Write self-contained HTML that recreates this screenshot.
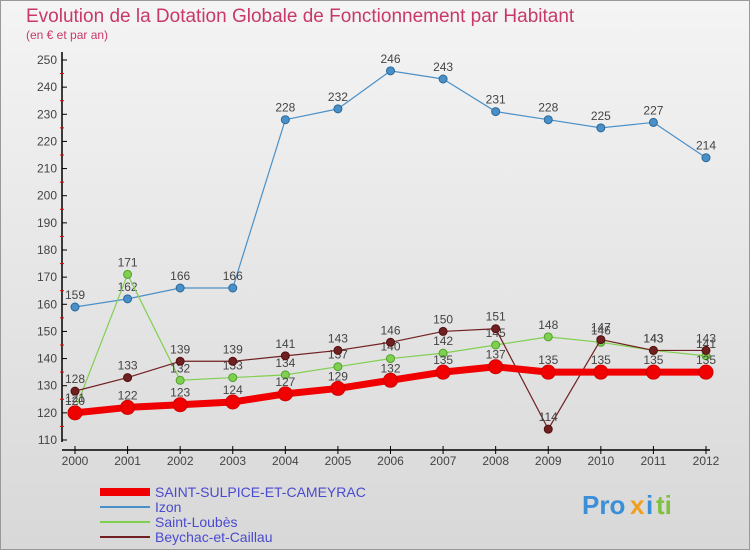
<!DOCTYPE html>
<html><head><meta charset="utf-8"><style>
body{margin:0;width:750px;height:550px;overflow:hidden;font-family:"Liberation Sans",sans-serif}
</style></head><body>
<svg width="750" height="550" xmlns="http://www.w3.org/2000/svg">
<defs><linearGradient id="bg" x1="0" y1="0" x2="0" y2="1"><stop offset="0" stop-color="#f4f4f4"/><stop offset="1" stop-color="#d8d8d8"/></linearGradient></defs>
<rect x="0.5" y="0.5" width="749" height="549" fill="url(#bg)" stroke="#999"/>
<text x="26" y="22" font-size="19" fill="#c8386a">Evolution de la Dotation Globale de Fonctionnement par Habitant</text>
<text x="26" y="39" font-size="12" fill="#c8386a">(en € et par an)</text>
<g id="axes"></g><g id="series"></g><g id="legend"></g>
<g font-size="26" font-weight="bold">
<text x="582" y="514" fill="#3a8fd8">Pro</text><text x="630" y="514" fill="#f0a020">x</text><text x="646" y="514" fill="#3a8fd8">i</text><text x="656" y="514" fill="#80c040">ti</text>
</g>
</svg>
<script>
const years=[2000,2001,2002,2003,2004,2005,2006,2007,2008,2009,2010,2011,2012];
const yTicks=[110,120,130,140,150,160,170,180,190,200,210,220,230,240,250];
const sulpice=[120,122,123,124,127,129,132,135,137,135,135,135,135];
const izon=[159,162,166,166,228,232,246,243,231,228,225,227,214];
const loubes=[121,171,132,133,134,137,140,142,145,148,146,143,141];
const beychac=[128,133,139,139,141,143,146,150,151,114,147,143,143];
const NS="http://www.w3.org/2000/svg";
const x=i=>75+i*(706-75)/12;
const y=v=>440-(v-110)*380/140;
function mk(tag,attrs,parent){const e=document.createElementNS(NS,tag);for(const k in attrs)e.setAttribute(k,attrs[k]);parent.appendChild(e);return e;}
const ax=document.getElementById('axes');
let a=mk('line',{x1:62,y1:52,x2:62,y2:442,stroke:'#000','stroke-width':1.5},ax);


a=mk('line',{x1:62,y1:450,x2:710,y2:450,stroke:'#000','stroke-width':1.5},ax);


yTicks.forEach(v=>{
 mk('line',{x1:62,y1:y(v),x2:67,y2:y(v),stroke:'#000'},ax);
 if(v<250) mk('line',{x1:60,y1:y(v+5),x2:64,y2:y(v+5),stroke:'#e00'},ax);
 const t=mk('text',{x:57,y:y(v)+4,'font-size':12,fill:'#444','text-anchor':'end'},ax);t.textContent=v;
 
 
});
years.forEach((yr,i)=>{
 mk('line',{x1:x(i),y1:446,x2:x(i),y2:454,stroke:'#000'},ax);
 const t=mk('text',{x:x(i),y:465,'font-size':12,fill:'#444','text-anchor':'middle'},ax);t.textContent=yr;
 
 
});
const sg=document.getElementById('series');
function series(vals,color,w,r,name,dark){
 const g=mk('g',{},sg);
 
 
 mk('polyline',{points:vals.map((v,i)=>x(i)+','+y(v)).join(' '),fill:'none',stroke:color,'stroke-width':w,'stroke-linejoin':'round'},g);
 vals.forEach((v,i)=>{
  const c=mk('circle',{cx:x(i),cy:y(v),r:r,fill:color,stroke:dark,'stroke-width':1},g);
  
  
  const t=mk('text',{x:x(i),y:y(v)-8,'font-size':12,fill:'#444','text-anchor':'middle'},g);t.textContent=v;
  
  
 });
}
series(izon,'#4a90c8',1.2,4,'izon-series','#2a6898');
series(loubes,'#80d050',1.2,4,'saint-loubes-series','#50a030');
series(beychac,'#702020',1.2,4,'beychac-series','#501010');
series(sulpice,'#f00000',7,7,'saint-sulpice-series','#d00000');
const lg=document.getElementById('legend');
[['SAINT-SULPICE-ET-CAMEYRAC','#f00000',8],['Izon','#4a90c8',2],['Saint-Loubès','#80d050',2],['Beychac-et-Caillau','#702020',2]].forEach((d,i)=>{
 const yy=492+i*15;
 const g=mk('g',{},lg);
 
 
 mk('line',{x1:100,y1:yy,x2:150,y2:yy,stroke:d[1],'stroke-width':d[2]},g);
 const t=mk('text',{x:155,y:yy+5,'font-size':14,fill:'#4a4ad0'},g);t.textContent=d[0];
});
</script>
</body></html>
